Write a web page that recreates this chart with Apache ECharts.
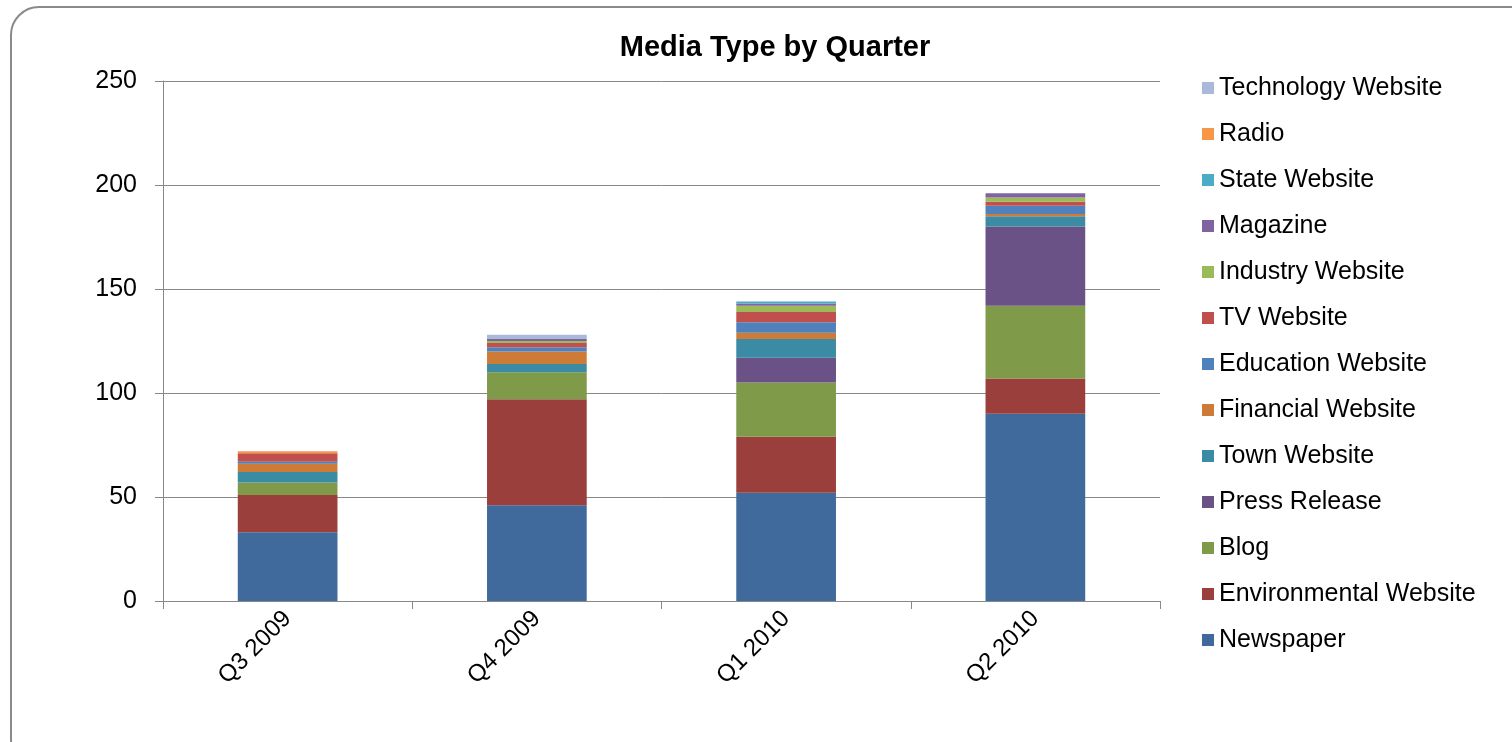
<!DOCTYPE html>
<html>
<head>
<meta charset="utf-8">
<script src="https://cdn.jsdelivr.net/npm/echarts@6/dist/echarts.min.js"></script>
<style>
html,body{margin:0;padding:0;background:#fff;}
#chart{width:1512px;height:742px;}
</style>
</head>
<body>
<div id="chart"></div>
<script>
const categories = ['Q3 2009', 'Q4 2009', 'Q1 2010', 'Q2 2010'];
const yTicks = [0, 50, 100, 150, 200, 250];
const seriesNames = ['Newspaper', 'Environmental Website', 'Blog', 'Press Release', 'Town Website', 'Financial Website', 'Education Website', 'TV Website', 'Industry Website', 'Magazine', 'State Website', 'Radio', 'Technology Website'];
const newspaper = [33, 46, 52, 90];
const environmental = [18, 51, 27, 17];
const blog = [6, 13, 26, 35];
const pressRelease = [0, 0, 12, 38];
const town = [5, 4, 9, 5];
const financial = [4, 6, 3, 1];
const education = [1, 2, 5, 4];
const tv = [4, 2, 5, 2];
const industry = [0, 1, 3, 2];
const magazine = [0, 1, 1, 2];
const state = [0, 0, 1, 0];
const radio = [1, 0, 0, 0];
const technology = [0, 2, 0, 0];
const seriesValues = [newspaper, environmental, blog, pressRelease, town, financial, education, tv, industry, magazine, state, radio, technology];
const colors = ['#3f6a9b', '#9b3f3d', '#7f9a48', '#6a5186', '#3a8ba3', '#cf7b38', '#4f81bd', '#c0504d', '#9bbb59', '#8064a2', '#4bacc6', '#f79646', '#a9b9d9'];

const chart = echarts.init(document.getElementById('chart'));
const font = 'Liberation Sans, Arial, sans-serif';
chart.setOption({
  animation: false,
  color: colors,
  title: {
    text: 'Media Type by Quarter',
    left: 770, top: 28, textAlign: 'center',
    textStyle: {fontFamily: font, fontSize: 29, fontWeight: 'bold', color: '#000'}
  },
  graphic: [{
    type: 'rect', silent: true, z: -10,
    shape: {x: 11, y: 7, width: 1540, height: 760, r: 28},
    style: {fill: 'none', stroke: '#8a8a8a', lineWidth: 2}
  }],
  legend: {
    orient: 'vertical', left: 1197, top: 70,
    data: seriesNames.slice().reverse(),
    icon: 'rect', itemWidth: 12, itemHeight: 12, itemGap: 20,
    textStyle: {fontFamily: font, fontSize: 25, color: '#000', lineHeight: 26}
  },
  grid: {left: 163, top: 81, width: 997, height: 520, containLabel: false},
  xAxis: {
    type: 'category', data: categories,
    axisLine: {lineStyle: {color: '#888', width: 1}},
    axisTick: {show: true, length: 8, lineStyle: {color: '#888'}},
    axisLabel: {rotate: 45, fontFamily: font, fontSize: 24, color: '#000', margin: 14}
  },
  yAxis: {
    type: 'value', min: yTicks[0], max: yTicks[yTicks.length - 1], interval: 50,
    axisLine: {show: true, lineStyle: {color: '#888', width: 1}},
    axisTick: {show: true, length: 8, lineStyle: {color: '#888'}},
    splitLine: {lineStyle: {color: '#888', width: 1}},
    axisLabel: {fontFamily: font, fontSize: 25, color: '#000', margin: 26}
  },
  series: seriesNames.map((name, i) => ({
    name: name, type: 'bar', stack: 'total', data: seriesValues[i],
    barWidth: '40%',
    itemStyle: {color: colors[i]}
  }))
});
</script>
</body>
</html>
